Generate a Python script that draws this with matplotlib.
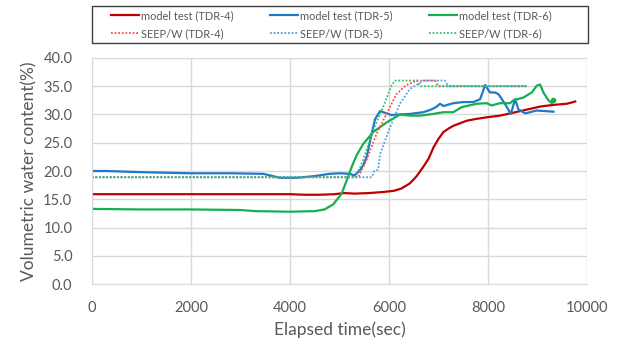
import matplotlib
matplotlib.use("Agg")
import matplotlib.pyplot as plt
from matplotlib.patches import Rectangle

plt.rcParams['font.family'] = ['Lato', 'DejaVu Sans']

# model test readings, elapsed time (sec) vs volumetric water content (%)
t_model_4 = [0, 1000, 2000, 3000, 4000, 4300, 4600, 4900, 5100, 5300, 5600, 5900, 6100, 6250,
             6420, 6550, 6690, 6800, 6900, 7000, 7100, 7200, 7300, 7450, 7570, 7750, 7970, 8240,
             8450, 8650, 8850, 9050, 9320, 9590, 9720, 9760]
vwc_model_4 = [15.9, 15.9, 15.9, 15.9, 15.9, 15.8, 15.8, 15.9, 16.1, 16.0, 16.1, 16.3, 16.5, 16.9,
               17.8, 19.0, 20.7, 22.2, 24.2, 25.7, 26.9, 27.5, 28.0, 28.5, 28.9, 29.2, 29.5, 29.8,
               30.2, 30.6, 31.0, 31.4, 31.7, 31.9, 32.2, 32.3]

t_model_5 = [0, 300, 1000, 2000, 2800, 3460, 3800, 4130, 4500, 4800, 5010, 5210, 5300, 5410,
             5480, 5550, 5650, 5720, 5820, 5950, 6050, 6220, 6420, 6690, 6830, 6950, 7030, 7100,
             7300, 7500, 7700, 7840, 7940, 8040, 8140, 8210, 8340, 8460, 8545, 8613, 8750, 8980,
             9320]
vwc_model_5 = [20.0, 20.0, 19.8, 19.6, 19.6, 19.5, 18.8, 18.8, 19.1, 19.5, 19.6, 19.5, 19.2, 20.1,
               21.0, 22.5, 26.6, 29.2, 30.6, 30.2, 29.9, 30.0, 30.1, 30.4, 30.8, 31.3, 31.9, 31.5,
               32.0, 32.2, 32.2, 32.7, 35.2, 33.9, 33.9, 33.6, 31.9, 30.1, 32.7, 30.9, 30.2, 30.7,
               30.5]

t_model_6 = [0, 1000, 2000, 3000, 3300, 4000, 4500, 4700, 4875, 5044, 5145, 5246, 5347, 5481,
             5683, 5953, 6222, 6420, 6626, 6894, 7096, 7298, 7467, 7770, 7972, 8074, 8242, 8444,
             8511, 8713, 8882, 8983, 9050, 9117, 9219, 9286, 9320]
vwc_model_6 = [13.3, 13.2, 13.2, 13.1, 12.9, 12.8, 12.9, 13.2, 14.1, 16.0, 18.3, 20.7, 22.8, 24.8,
               26.9, 28.6, 30.0, 29.8, 29.8, 30.1, 30.4, 30.4, 31.3, 31.9, 32.0, 31.6, 32.0, 32.0,
               32.5, 33.0, 33.9, 35.1, 35.3, 33.9, 32.5, 32.0, 32.5]

# SEEP/W results
t_seep_4 = [0, 5380, 5550, 5750, 5950, 6150, 6350, 6560, 6930, 7000, 8780]
vwc_seep_4 = [18.9, 18.9, 22.0, 26.6, 30.1, 33.6, 35.2, 36.0, 36.0, 35.0, 35.0]

t_seep_5 = [0, 5650, 5700, 5780, 5820, 6020, 6220, 6420, 6700, 7130, 7200, 8780]
vwc_seep_5 = [18.9, 18.9, 20.0, 20.2, 23.0, 27.7, 31.9, 34.5, 36.0, 36.0, 35.0, 35.0]

t_seep_6 = [0, 5330, 5480, 5680, 5880, 6050, 6120, 6560, 6630, 8780]
vwc_seep_6 = [18.9, 18.9, 22.0, 27.2, 31.3, 35.1, 36.0, 36.0, 35.0, 35.0]

x_ticks = [0, 2000, 4000, 6000, 8000, 10000]
y_ticks = [0, 5, 10, 15, 20, 25, 30, 35, 40]

TEXT = '#595959'
GRID = '#D9D9D9'


def plot_series(ax):
    """
    draw the model test (solid) and SEEP/W (dotted) curves
    :param ax: target axes
    :return: handles in legend order
    """
    m4, = ax.plot(t_model_4, vwc_model_4, color='#C00000', lw=1.6, label='model test (TDR-4)')
    m5, = ax.plot(t_model_5, vwc_model_5, color='#1F78C8', lw=1.6, label='model test (TDR-5)')
    m6, = ax.plot(t_model_6, vwc_model_6, color='#14B050', lw=1.6, label='model test (TDR-6)')
    ax.plot(t_model_6[-1], vwc_model_6[-1], 'o', color='#14B050', ms=3)
    s4, = ax.plot(t_seep_4, vwc_seep_4, color='#FF4B4B', lw=1.3, ls=(0, (1, 1)),
                  label='SEEP/W (TDR-4)')
    s5, = ax.plot(t_seep_5, vwc_seep_5, color='#4FA0E0', lw=1.3, ls=(0, (1, 1)),
                  label='SEEP/W (TDR-5)')
    s6, = ax.plot(t_seep_6, vwc_seep_6, color='#2CC46C', lw=1.3, ls=(0, (1, 1)),
                  label='SEEP/W (TDR-6)')
    # legend fills column by column, so interleave to get model / SEEP rows
    return [m4, s4, m5, s5, m6, s6]


def style_axes(ax):
    ax.set_xlim(0, 10000)
    ax.set_ylim(0, 40)
    ax.set_xticks(x_ticks)
    ax.set_yticks(y_ticks)
    ax.set_yticklabels(['%.1f' % v for v in y_ticks])
    ax.grid(True, color=GRID, lw=1.0)
    ax.set_axisbelow(True)
    for side in ['top', 'right']:
        ax.spines[side].set_visible(False)
    for side in ['left', 'bottom']:
        ax.spines[side].set_color(GRID)
    ax.tick_params(axis='both', length=0, colors=TEXT, labelsize=10.5)
    ax.tick_params(axis='x', pad=12)
    ax.tick_params(axis='y', pad=14)
    ax.set_xlabel('Elapsed time(sec)', color=TEXT, fontsize=12.5, labelpad=5)
    ax.set_ylabel('Volumetric water content(%)', color=TEXT, fontsize=12.5, labelpad=4)


if __name__ == '__main__':
    fig = plt.figure(figsize=(6.2, 3.41), dpi=100)
    ax = fig.add_axes([0.148, 0.167, 0.799, 0.663])
    handles = plot_series(ax)
    style_axes(ax)
    # legend frame spans the plot width, entries sit inside with some margin
    fig.patches.append(Rectangle((0.148, 0.874), 0.8, 0.108, transform=fig.transFigure,
                                 fill=False, edgecolor='#404040', lw=1.0))
    leg = fig.legend(handles=handles, loc='center', ncol=3,
                     bbox_to_anchor=(0.535, 0.928), fontsize=7.9,
                     frameon=False, handlelength=2.5, handletextpad=0.25,
                     borderpad=0.0, borderaxespad=0.0, labelspacing=0.65, columnspacing=3.3)
    for txt in leg.get_texts():
        txt.set_color(TEXT)
    fig.savefig('out.png', dpi=100)
